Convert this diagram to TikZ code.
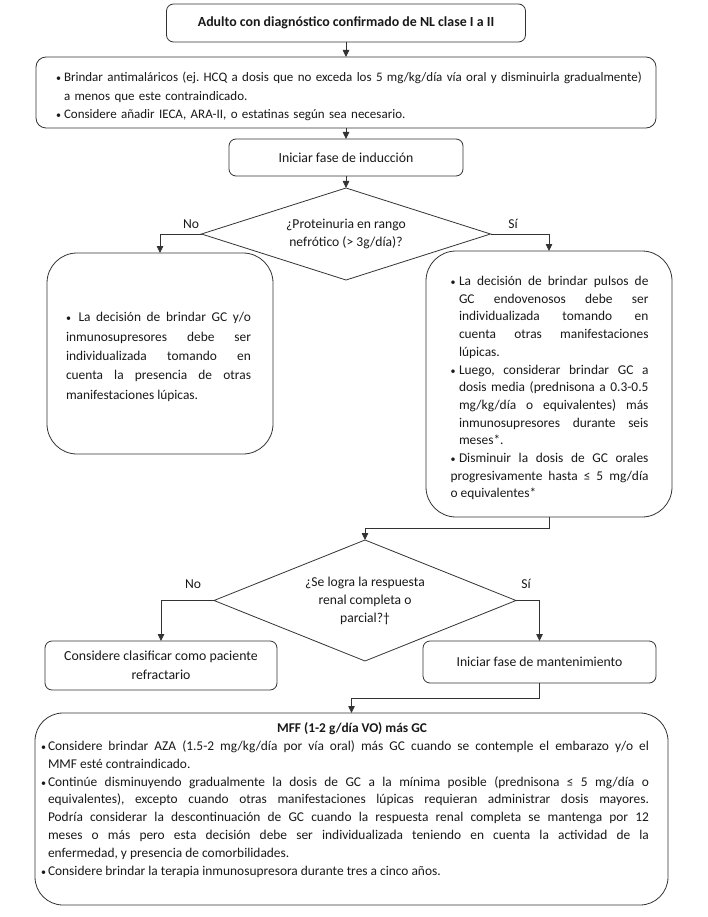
\documentclass[tikz,border=0pt]{standalone}
\usepackage{fontspec}
\setmainfont{Carlito}
\usetikzlibrary{arrows.meta,shapes.geometric}
\newcommand{\bul}[1]{\par\noindent\hangindent=#1\hangafter=1\makebox[#1][l]{\fontsize{10}{10}\selectfont\textbullet}\ignorespaces}
\newcommand{\fsz}[2]{\fontsize{#1}{#2}\selectfont\frenchspacing}
\begin{document}
\begin{tikzpicture}[x=1pt,y=-1pt,
  line/.style={draw=black!80,line width=0.8pt},
  arr/.style={line,-{Triangle[width=6.5pt,length=7pt]}},
  box/.style={line,rectangle,rounded corners=7pt,inner sep=0pt,outer sep=0pt,text=black!90,align=center},
  frame/.style={line,rectangle,inner sep=0pt,outer sep=0pt},
  txt/.style={inner sep=0pt,outer sep=0pt,text=black!90},
  dia/.style={line,diamond,inner sep=0pt,outer sep=0pt,text=black!90,align=center},
  lab/.style={inner sep=0pt,text=black!90,font=\fsz{13.6}{16}}
]
\fill[white] (0,0) rectangle (708,917);
\useasboundingbox (0,0) rectangle (708,917);

% top box
\node[box,minimum width=359pt,minimum height=38pt,font=\fsz{13.9}{16}\bfseries] (top) at (346,23)
  {Adulto con diagnóstico confirmado de NL clase I a II};

% bullet box
\node[frame,rounded corners=10pt,minimum width=620pt,minimum height=71pt] (hcq) at (346,92.5) {};
\node[txt,text width=598pt,align=left,font=\fsz{13}{18.6}] (hcqtxt) at (355,92) {%
\bul{8pt}Brindar antimaláricos (ej. HCQ a dosis que no exceda los 5 mg/kg/día vía oral y disminuirla gradualmente)\newline a menos que este contraindicado.
\bul{8pt}Considere añadir IECA, ARA-II, o estatinas según sea necesario.};

% induction
\node[box,minimum width=234pt,minimum height=37pt,font=\fsz{13.8}{16}] (ind) at (346,157.5) {Iniciar fase de inducción};

% diamond 1
\node[dia,aspect=3.14,minimum width=289pt,minimum height=92pt,font=\fsz{13.6}{18}] (d1) at (346,234) {¿Proteinuria en rango\\nefrótico (> 3g/día)?};
\node[lab] (no1) at (191,224) {No};
\node[lab] (si1) at (513,224) {Sí};

% left box
\node[frame,rounded corners=30pt,minimum width=226pt,minimum height=201pt] (lb) at (160,353.5) {};
\node[txt,text width=185pt,align=justify,font=\fsz{13.4}{19.3}] (lbtxt) at (158.5,352) {%
\bul{12.5pt}La decisión de brindar GC y/o\linebreak inmunosupresores debe ser\linebreak individualizada tomando en\linebreak cuenta la presencia de otras\linebreak manifestaciones lúpicas.};

% right box
\node[frame,rounded corners=30pt,minimum width=246pt,minimum height=266pt] (rb) at (549,384) {};
\node[txt,text width=198pt,align=justify,font=\fsz{13.4}{17.7}] (rbtxt) at (549.5,384) {%
\bul{8.5pt}La decisión de brindar pulsos de\linebreak GC endovenosos debe ser\linebreak individualizada tomando en\linebreak cuenta otras manifestaciones\linebreak lúpicas.
\bul{8.5pt}Luego, considerar brindar GC a\linebreak dosis media (prednisona a 0.3-0.5\linebreak mg/kg/día o equivalentes) más\linebreak inmunosupresores durante seis\linebreak meses*.
\bul{8.5pt}Disminuir la dosis de GC orales\linebreak progresivamente hasta ≤ 5 mg/día\linebreak o equivalentes*};

% diamond 2
\node[dia,aspect=2.5,minimum width=302pt,minimum height=121pt,font=\fsz{13.6}{18}] (d2) at (365,600.5) {¿Se logra la respuesta\\renal completa o\\parcial?†};
\node[lab] (no2) at (193,584) {No};
\node[lab] (si2) at (526,584) {Sí};

% outcome boxes
\node[box,minimum width=232pt,minimum height=49pt,font=\fsz{13.8}{19}] (refr) at (161,665.5) {Considere clasificar como paciente\\refractario};
\node[box,minimum width=233pt,minimum height=42pt,font=\fsz{13.7}{16}] (mant) at (539.5,662) {Iniciar fase de mantenimiento};

% bottom box
\node[frame,rounded corners=28pt,minimum width=633pt,minimum height=192pt] (mff) at (351.5,809) {};
\node[txt,text width=608pt,align=justify,font=\fsz{13.4}{17.8}] (mfftxt) at (345,800) {%
{\centering\hspace*{14pt}\textbf{MFF (1-2 g/día VO) más GC}\par}
\bul{7pt}Considere brindar AZA (1.5-2 mg/kg/día por vía oral) más GC cuando se contemple el embarazo y/o el\linebreak MMF esté contraindicado.
\bul{7pt}Continúe disminuyendo gradualmente la dosis de GC a la mínima posible (prednisona ≤ 5 mg/día o\linebreak equivalentes), excepto cuando otras manifestaciones lúpicas requieran administrar dosis mayores.\linebreak Podría considerar la descontinuación de GC cuando la respuesta renal completa se mantenga por 12\linebreak meses o más pero esta decisión debe ser individualizada teniendo en cuenta la actividad de la\linebreak enfermedad, y presencia de comorbilidades.
\bul{7pt}Considere brindar la terapia inmunosupresora durante tres a cinco años.};

% connectors
\draw[arr] (top.south) -- (hcq.north);
\draw[arr] (hcq.south) -- (ind.north);
\draw[arr] (ind.south) -- (d1.north);
\draw[arr] (d1.west) -| (lb.north);
\draw[arr] (d1.east) -| (rb.north);
\draw[arr] (rb.south) -- ++(0,11) -| (d2.north);
\draw[arr] (d2.west) -| (refr.north);
\draw[arr] (d2.east) -| (mant.north);
\draw[arr] (mant.south) -- ++(0,15) -| (mff.north);
\end{tikzpicture}
\end{document}
